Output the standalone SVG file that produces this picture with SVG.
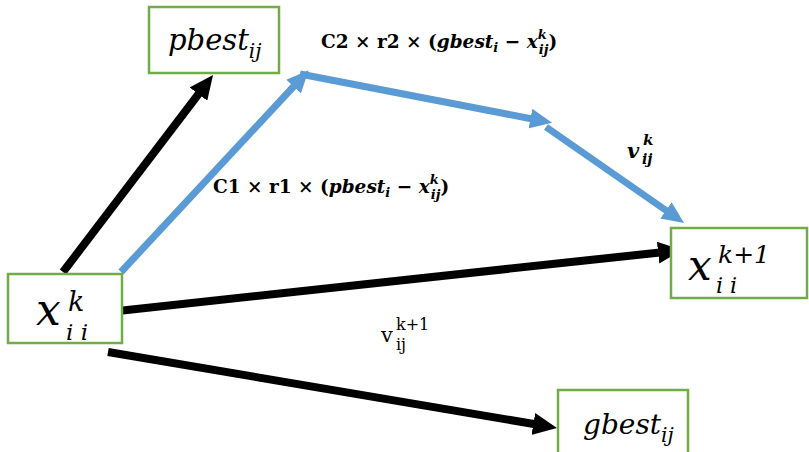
<svg xmlns="http://www.w3.org/2000/svg" width="809" height="452" viewBox="0 0 809 452">
<style>
.box{fill:#fff;stroke:#70AD47;stroke-width:2.5}
.m{font-family:"DejaVu Serif","Liberation Serif",serif;font-style:italic;fill:#000}
.lb{font-family:"DejaVu Serif","Liberation Serif",serif;font-weight:bold;fill:#000}
.rm{font-family:"DejaVu Serif","Liberation Serif",serif;fill:#000}
.bk{stroke:#000;stroke-width:8;fill:none}
.bl{stroke:#5B9BD5;stroke-width:7;fill:none}
</style>
<defs>
<marker id="ab" markerUnits="userSpaceOnUse" markerWidth="24" markerHeight="22" viewBox="0 0 24 22" refX="2" refY="11" orient="auto"><path d="M0,0 L24,11 L0,22 z" fill="#000"/></marker>
<marker id="au" markerUnits="userSpaceOnUse" markerWidth="22" markerHeight="20" viewBox="0 0 22 20" refX="2" refY="10" orient="auto"><path d="M0,0 L22,10 L0,20 z" fill="#5B9BD5"/></marker>
</defs>
<g id="connectors">
<line class="bk" x1="63" y1="272" x2="199.7" y2="92.5" marker-end="url(#ab)"/>
<line class="bk" x1="118" y1="311" x2="660.1" y2="252.4" marker-end="url(#ab)"/>
<line class="bk" x1="108" y1="352" x2="535.3" y2="424.3" marker-end="url(#ab)"/>
<line class="bl" x1="121" y1="272" x2="295" y2="85" marker-end="url(#au)"/>
<line class="bl" x1="300" y1="74" x2="532.4" y2="119" marker-end="url(#au)"/>
<line class="bl" x1="546" y1="127" x2="667.6" y2="211.5" marker-end="url(#au)"/>
</g>
<g id="pbest">
<rect class="box" x="149" y="7" width="130" height="66"/>
<text class="m" x="168" y="50" font-size="29">pbest<tspan font-size="20" dy="8">ij</tspan></text>
</g>
<g id="xk">
<rect class="box" x="8" y="274" width="114" height="69"/>
<text class="m" x="36" y="325" font-size="44">x</text>
<text class="m" x="68" y="311" font-size="27">k</text>
<text class="m" x="66" y="340" font-size="23">i i</text>
</g>
<g id="xk1">
<rect class="box" x="671" y="228" width="136" height="70"/>
<text class="m" x="688" y="280" font-size="42">x</text>
<text class="m" x="718" y="263" font-size="25">k+1</text>
<text class="m" x="716" y="293" font-size="22">i i</text>
</g>
<g id="gbest">
<rect class="box" x="558" y="390" width="130" height="70"/>
<text class="m" x="583" y="434" font-size="28">gbest<tspan font-size="20" dy="8">ij</tspan></text>
</g>
<g id="labels">
<text class="lb" x="321" y="48" font-size="18.5">C2 × r2 × (<tspan font-style="italic">gbest</tspan><tspan font-style="italic" font-size="13" dy="4">i</tspan><tspan dy="-4"> − </tspan><tspan font-style="italic">x</tspan><tspan font-style="italic" font-size="13" dy="-9">k</tspan><tspan font-style="italic" font-size="13" dx="-8" dy="15">ij</tspan><tspan dy="-6">)</tspan></text>
<text class="lb" x="213" y="193" font-size="18.5">C1 × r1 × (<tspan font-style="italic">pbest</tspan><tspan font-style="italic" font-size="13" dy="4">i</tspan><tspan dy="-4"> − </tspan><tspan font-style="italic">x</tspan><tspan font-style="italic" font-size="13" dy="-9">k</tspan><tspan font-style="italic" font-size="13" dx="-8" dy="15">ij</tspan><tspan dy="-6">)</tspan></text>
<text class="lb" x="627" y="158" font-size="21" font-style="italic">v</text>
<text class="lb" x="643" y="145" font-size="15" font-style="italic">k</text>
<text class="lb" x="642" y="164" font-size="14" font-style="italic">ij</text>
<text class="rm" x="381" y="342" font-size="21">v</text>
<text class="rm" x="396" y="330" font-size="16">k+1</text>
<text class="rm" x="396" y="350" font-size="16">ij</text>
</g>
</svg>
